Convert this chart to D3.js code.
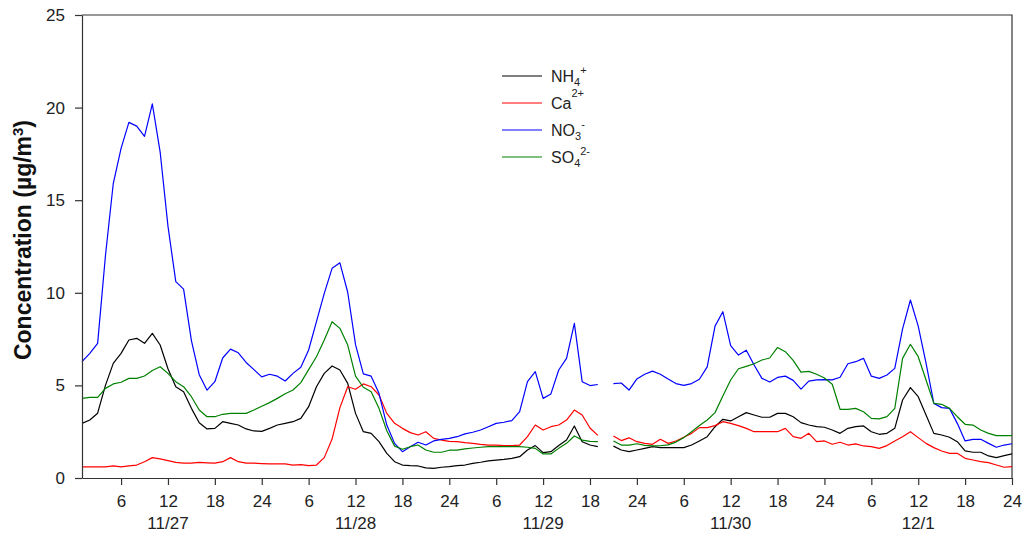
<!DOCTYPE html>
<html>
<head>
<meta charset="utf-8">
<script src="https://cdn.jsdelivr.net/npm/d3@7"></script>
<style>
body { margin: 0; background: #fff; }
svg { font-family: "Liberation Sans", Arial, sans-serif; }
</style>
</head>
<body>
<script>
// hourly samples, 11/27 01:00 (hour 1) .. 12/1 24:00 (hour 120)
var hours = d3.range(1, 121);

var nh4 = [
    2.95, 3.13, 3.5, 5.0, 6.19, 6.73, 7.45, 7.54, 7.27, 7.81, 7.18, 5.9, 4.93, 4.66, 3.76, 2.98, 2.65, 2.68, 3.04, 2.95, 2.86, 2.65, 2.54, 2.52,
    2.68, 2.86, 2.95, 3.04, 3.22, 3.85, 4.93, 5.65, 6.05, 5.83, 5.11, 3.49, 2.5, 2.41, 1.96, 1.33, 0.88, 0.7, 0.67, 0.65, 0.55, 0.52, 0.58, 0.61,
    0.67, 0.7, 0.79, 0.85, 0.92, 0.97, 1.01, 1.06, 1.15, 1.51, 1.75, 1.37, 1.42, 1.75, 2.05, 2.81, 1.96, 1.78, 1.69, null, 1.72, 1.51, 1.42, 1.51,
    1.6, 1.69, 1.64, 1.64, 1.64, 1.64, 1.78, 2.0, 2.23, 2.77, 3.17, 3.08, 3.31, 3.53, 3.4, 3.28, 3.28, 3.49, 3.49, 3.31, 2.99, 2.86, 2.77, 2.74,
    2.59, 2.41, 2.68, 2.77, 2.81, 2.5, 2.36, 2.41, 2.68, 4.21, 4.88, 4.39, 3.4, 2.41, 2.32, 2.2, 1.96, 1.46, 1.39, 1.39, 1.19, 1.1, 1.21, 1.3
];

var ca = [
    0.6, 0.6, 0.6, 0.6, 0.65, 0.6, 0.65, 0.7, 0.88, 1.1, 1.03, 0.94, 0.84, 0.8, 0.8, 0.84, 0.82, 0.8, 0.88, 1.1, 0.88, 0.8, 0.8, 0.78,
    0.76, 0.76, 0.76, 0.7, 0.72, 0.67, 0.7, 1.1, 2.1, 3.8, 4.93, 4.79, 5.08, 4.93, 4.48, 3.49, 2.95, 2.68, 2.45, 2.32, 2.5, 2.14, 2.05, 1.98,
    1.96, 1.91, 1.87, 1.82, 1.78, 1.78, 1.75, 1.75, 1.78, 2.23, 2.86, 2.59, 2.77, 2.86, 3.13, 3.67, 3.4, 2.7, 2.3, null, 2.27, 2.02, 2.17, 1.96,
    1.87, 1.82, 2.09, 1.87, 2.0, 2.2, 2.41, 2.72, 2.72, 2.83, 3.04, 2.95, 2.83, 2.68, 2.5, 2.5, 2.5, 2.5, 2.68, 2.23, 2.14, 2.41, 1.96, 2.0,
    1.82, 1.93, 1.78, 1.84, 1.73, 1.69, 1.6, 1.75, 2.0, 2.23, 2.5, 2.18, 1.87, 1.64, 1.46, 1.33, 1.33, 1.06, 0.97, 0.88, 0.83, 0.7, 0.58, 0.61
];

var no3 = [
    6.28, 6.73, 7.27, 12.0, 15.9, 17.8, 19.2, 19.0, 18.45, 20.2, 17.6, 13.6, 10.6, 10.2, 7.42, 5.58, 4.74, 5.2, 6.48, 6.96, 6.76, 6.24, 5.85, 5.46,
    5.6, 5.5, 5.24, 5.65, 5.98, 6.91, 8.44, 9.97, 11.32, 11.62, 10.03, 7.2, 5.62, 5.5, 4.57, 2.86, 1.87, 1.42, 1.69, 1.93, 1.78, 2.0, 2.09, 2.14,
    2.23, 2.38, 2.47, 2.59, 2.77, 2.95, 3.01, 3.1, 3.58, 5.2, 5.74, 4.3, 4.54, 5.83, 6.46, 8.35, 5.2, 4.99, 5.05, null, 5.1, 5.13, 4.75, 5.35,
    5.6, 5.77, 5.6, 5.35, 5.1, 5.0, 5.1, 5.33, 6.0, 8.2, 8.98, 7.15, 6.64, 6.9, 6.1, 5.38, 5.18, 5.43, 5.5, 5.27, 4.8, 5.23, 5.3, 5.31,
    5.3, 5.44, 6.17, 6.28, 6.46, 5.5, 5.38, 5.56, 5.92, 8.05, 9.61, 8.2, 6.2, 4.03, 3.8, 3.76, 2.95, 2.0, 2.09, 2.09, 1.87, 1.66, 1.78, 1.85
];

var so4 = [
    4.3, 4.35, 4.35, 4.84, 5.08, 5.17, 5.38, 5.38, 5.51, 5.8, 6.01, 5.65, 5.2, 4.93, 4.39, 3.67, 3.31, 3.31, 3.44, 3.49, 3.49, 3.49, 3.67, 3.87,
    4.07, 4.3, 4.55, 4.75, 5.15, 5.85, 6.55, 7.45, 8.44, 8.08, 7.18, 5.5, 4.9, 4.66, 3.76, 2.55, 1.72, 1.55, 1.69, 1.78, 1.51, 1.39, 1.39, 1.5,
    1.51, 1.57, 1.62, 1.66, 1.69, 1.69, 1.69, 1.69, 1.69, 1.66, 1.6, 1.3, 1.3, 1.6, 1.87, 2.27, 2.05, 1.98, 1.96, null, 2.0, 1.78, 1.78, 1.85,
    1.76, 1.73, 1.74, 1.79, 1.94, 2.18, 2.5, 2.83, 3.13, 3.53, 4.43, 5.29, 5.9, 6.03, 6.17, 6.37, 6.48, 7.05, 6.82, 6.35, 5.72, 5.76, 5.6, 5.4,
    5.06, 3.71, 3.71, 3.76, 3.58, 3.22, 3.19, 3.31, 3.76, 6.46, 7.22, 6.55, 5.29, 4.03, 3.98, 3.76, 3.31, 2.9, 2.86, 2.59, 2.41, 2.29, 2.29, 2.29
];

var xTicks = [6, 12, 18, 24, 30, 36, 42, 48, 54, 60, 66, 72, 78, 84, 90, 96, 102, 108, 114, 120];
var dayLabels = ["11/27", "11/28", "11/29", "11/30", "12/1"];
var dayCenters = [12, 36, 60, 84, 108];
var yTicks = [0, 5, 10, 15, 20, 25];

var series = [
    { name: "NH", sub: "4", sup: "+", values: nh4, color: "#000000" },
    { name: "Ca", sub: "", sup: "2+", values: ca, color: "#ff0000" },
    { name: "NO", sub: "3", sup: "-", values: no3, color: "#0000ff" },
    { name: "SO", sub: "4", sup: "2-", values: so4, color: "#008000" }
];

document.addEventListener('DOMContentLoaded', init);

function init() {
    let width = 1024;
    let height = 534;
    let left = 82, right = 1012, top = 15, bottom = 478;
    let font = "Liberation Sans, Arial, sans-serif";

    let svg = d3.select("body")
        .append("svg")
        .attr("width", width)
        .attr("height", height);

    let x = d3.scaleLinear().domain([1, 120]).range([left, right]);
    let y = d3.scaleLinear().domain([0, 25]).range([bottom, top]);

    // frame (top and right)
    svg.append("path")
        .attr("d", "M" + left + "," + top + "H" + right + "V" + bottom)
        .attr("fill", "none")
        .attr("stroke", "#333")
        .attr("stroke-width", 1.2);

    // lines
    let line = d3.line()
        .defined((d) => d != null)
        .x((d, i) => x(hours[i]))
        .y((d) => y(d));

    svg.selectAll("path.series")
        .data(series)
        .enter()
        .append("path")
        .attr("class", "series")
        .attr("d", (s) => line(s.values))
        .attr("fill", "none")
        .attr("stroke", (s) => s.color)
        .attr("stroke-width", 1.2)
        .attr("stroke-linejoin", "round");

    // y axis
    let yAxis = svg.append("g")
        .attr("transform", "translate(" + left + ",0)")
        .call(d3.axisLeft(y).tickValues(yTicks).tickSize(7).tickSizeOuter(0).tickPadding(10));
    yAxis.selectAll("text").attr("font-size", "17px").attr("fill", "#222").attr("font-family", font);

    // x axis
    let xAxis = svg.append("g")
        .attr("transform", "translate(0," + bottom + ")")
        .call(d3.axisBottom(x).tickValues(xTicks).tickSize(7).tickSizeOuter(0).tickPadding(10)
            .tickFormat((d) => (d - 1) % 24 + 1));
    xAxis.selectAll("text").attr("font-size", "17px").attr("fill", "#222").attr("font-family", font);

    [yAxis, xAxis].forEach((g) => {
        g.select(".domain").attr("stroke", "#333").attr("stroke-width", 1.2);
        g.selectAll(".tick line").attr("stroke", "#333").attr("stroke-width", 1.2);
    });

    // day labels
    svg.selectAll("text.day")
        .data(dayLabels)
        .enter()
        .append("text")
        .attr("class", "day")
        .attr("x", (d, i) => x(dayCenters[i]))
        .attr("y", 529)
        .attr("text-anchor", "middle")
        .attr("font-size", "17px")
        .attr("fill", "#222")
        .text((d) => d);

    // y title
    let yt = svg.append("text")
        .attr("transform", "translate(31," + 240 + ") rotate(-90)")
        .attr("text-anchor", "middle")
        .attr("font-size", "23px")
        .attr("font-weight", "bold")
        .attr("fill", "#111");
    yt.append("tspan").text("Concentration (\u00b5g/m");
    yt.append("tspan").attr("baseline-shift", "super").attr("font-size", "15px").text("3");
    yt.append("tspan").text(")");

    // legend
    let legend = svg.append("g").attr("transform", "translate(502,76)");
    let rows = legend.selectAll("g")
        .data(series)
        .enter()
        .append("g")
        .attr("transform", (d, i) => "translate(0," + i * 27 + ")");
    rows.append("line")
        .attr("x1", 0).attr("x2", 40)
        .attr("stroke", (d) => d.color)
        .attr("stroke-width", 1.2);
    let lt = rows.append("text")
        .attr("x", 49)
        .attr("y", 6)
        .attr("font-size", "16px")
        .attr("fill", "#222");
    lt.append("tspan").text((d) => d.name);
    lt.append("tspan").attr("dy", 4).attr("font-size", "11px").text((d) => d.sub);
    lt.append("tspan").attr("dy", -12).attr("font-size", "11px").text((d) => d.sup);
}
</script>
</body>
</html>
